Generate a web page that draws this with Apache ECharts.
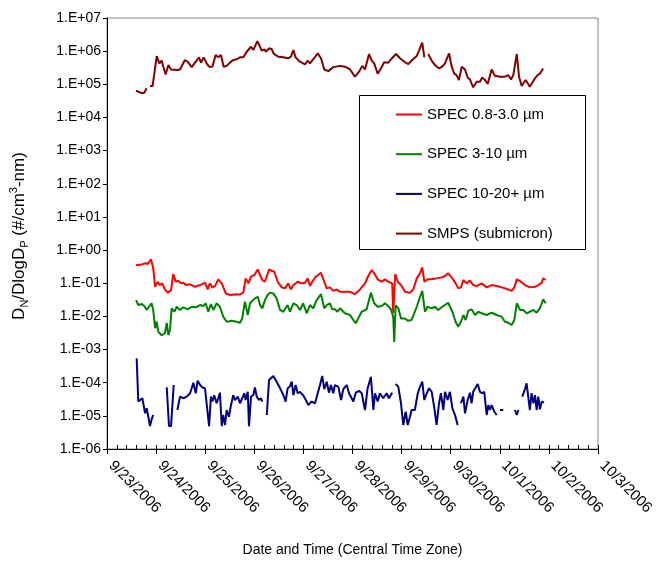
<!DOCTYPE html>
<html>
<head>
<meta charset="utf-8">
<script src="https://cdn.jsdelivr.net/npm/echarts@6/dist/echarts.min.js"></script>
<style>html,body{margin:0;padding:0;background:#fff}#c{width:664px;height:562px}</style>
</head>
<body>
<div id="c"></div>
<script>
// x values: hours since 9/23/2006 00:00 (Central Time)
const dayLabels = ['9/23/2006','9/24/2006','9/25/2006','9/26/2006','9/27/2006','9/28/2006','9/29/2006','9/30/2006','10/1/2006','10/2/2006','10/3/2006'];
const yTickLabels = ['1.E-06','1.E-05','1.E-04','1.E-03','1.E-02','1.E-01','1.E+00','1.E+01','1.E+02','1.E+03','1.E+04','1.E+05','1.E+06','1.E+07'];
const seriesNames = ['SPEC 0.8-3.0 µm','SPEC 3-10 µm','SPEC 10-20+ µm','SMPS (submicron)'];

const spec08 = [[14.2,0.35],[17.0,0.37],[18.9,0.40],[19.9,0.38],[21.5,0.53],[22.6,0.28],[23.5,0.078],[24.8,0.11],[25.9,0.088],[27.0,0.099],[28.3,0.065],[29.7,0.052],[31.3,0.062],[32.4,0.19],[33.6,0.11],[34.8,0.12],[36.2,0.099],[37.3,0.104],[38.5,0.088],[40.6,0.093],[43.0,0.078],[45.5,0.088],[47.9,0.104],[49.2,0.065],[50.3,0.099],[51.5,0.075],[52.8,0.082],[54.4,0.131],[56.1,0.099],[58.0,0.050],[60.1,0.044],[62.6,0.046],[65.0,0.046],[66.6,0.052],[67.8,0.14],[69.1,0.099],[70.4,0.157],[72.0,0.177],[73.7,0.26],[74.8,0.177],[75.9,0.125],[77.2,0.111],[79.2,0.26],[80.5,0.238],[81.8,0.222],[83.4,0.111],[85.4,0.075],[87.0,0.070],[88.6,0.099],[89.9,0.065],[91.1,0.088],[93.2,0.111],[95.2,0.099],[96.8,0.104],[98.1,0.14],[99.2,0.082],[100.3,0.111],[102.0,0.157],[104.6,0.207],[106.2,0.111],[107.4,0.070],[109.0,0.075],[110.6,0.059],[112.3,0.065],[113.9,0.055],[116.3,0.055],[118.8,0.055],[121.2,0.047],[123.7,0.065],[126.1,0.099],[127.7,0.165],[129.4,0.25],[130.6,0.20],[132.3,0.131],[134.3,0.111],[135.9,0.131],[137.5,0.111],[139.4,0.099],[139.9,0.0126],[140.9,0.19],[142.1,0.111],[143.7,0.088],[145.7,0.055],[148.1,0.052],[149.7,0.065],[151.4,0.14],[153.0,0.20],[154.1,0.30],[155.1,0.111],[156.7,0.131],[158.7,0.131],[161.1,0.14],[163.6,0.15],[165.2,0.165],[166.8,0.20],[168.8,0.14],[170.4,0.099],[171.7,0.070],[173.0,0.075],[174.2,0.125],[175.8,0.099],[177.4,0.12],[179.0,0.088],[180.7,0.082],[183.1,0.099],[185.6,0.075],[188.0,0.088],[190.5,0.082],[192.9,0.075],[194.5,0.070],[196.1,0.065],[197.8,0.059],[199.1,0.075],[200.3,0.131],[202.3,0.111],[204.3,0.088],[206.7,0.075],[209.2,0.078],[210.8,0.088],[212.5,0.104],[213.2,0.14],[214.4,0.125]];

const spec310 = [[14.2,0.031],[15.3,0.022],[17.0,0.0236],[18.2,0.0205],[19.4,0.0156],[20.5,0.0195],[21.8,0.0248],[22.6,0.0156],[23.5,0.0044],[24.3,0.0069],[25.1,0.0034],[26.7,0.0027],[28.3,0.0031],[29.2,0.0064],[30.0,0.0027],[30.8,0.0039],[31.6,0.0175],[32.9,0.0138],[34.1,0.0195],[35.7,0.0156],[37.3,0.0188],[39.4,0.0163],[41.4,0.0195],[43.4,0.0188],[45.5,0.022],[47.0,0.0205],[48.2,0.0248],[49.5,0.0138],[50.8,0.0236],[52.0,0.0156],[53.6,0.0248],[55.2,0.0195],[56.8,0.0098],[58.5,0.0069],[61.0,0.0074],[63.4,0.0069],[65.0,0.0064],[66.1,0.0087],[67.4,0.0277],[68.8,0.011],[69.9,0.0248],[70.7,0.022],[72.3,0.035],[73.7,0.039],[74.8,0.022],[75.9,0.0175],[77.2,0.031],[78.5,0.044],[79.7,0.052],[81.3,0.0495],[82.9,0.035],[84.6,0.0156],[86.2,0.0138],[88.3,0.022],[89.4,0.0138],[91.1,0.0248],[92.7,0.022],[94.3,0.0156],[95.9,0.0248],[97.6,0.0124],[99.2,0.022],[100.8,0.0175],[102.5,0.031],[104.6,0.047],[106.2,0.0175],[107.4,0.022],[109.0,0.0248],[110.1,0.0163],[111.4,0.0163],[112.7,0.0138],[113.9,0.0175],[114.8,0.0156],[116.3,0.0124],[118.8,0.011],[120.4,0.0078],[121.6,0.0062],[123.2,0.0098],[124.5,0.0138],[126.9,0.0163],[129.0,0.052],[130.6,0.0248],[132.3,0.0195],[134.3,0.0205],[135.9,0.0248],[137.8,0.0195],[138.8,0.0163],[139.9,0.0098],[140.4,0.0017],[141.1,0.022],[142.4,0.0175],[143.7,0.0087],[145.7,0.0087],[147.0,0.0074],[148.9,0.0078],[151.4,0.0195],[153.0,0.039],[154.1,0.059],[155.4,0.0138],[156.7,0.0195],[158.7,0.0175],[160.3,0.0195],[161.9,0.0156],[164.4,0.0205],[166.8,0.0258],[168.8,0.0138],[170.4,0.0069],[171.7,0.0049],[173.0,0.0069],[174.2,0.011],[175.3,0.0078],[176.6,0.0148],[178.2,0.0163],[179.9,0.011],[181.5,0.0138],[183.1,0.0124],[185.6,0.011],[188.0,0.0129],[190.5,0.011],[192.9,0.0098],[194.5,0.0069],[196.1,0.0064],[197.8,0.0055],[199.1,0.0078],[200.3,0.0248],[201.9,0.0156],[203.5,0.0156],[205.1,0.0124],[206.7,0.0138],[208.4,0.0156],[210.0,0.0129],[211.6,0.0175],[213.2,0.0327],[214.4,0.0248]];

const spec1020 = [[14.5,5.4e-4],[15.3,2.7e-5],[16.1,3.0e-5],[17.3,3.4e-5],[17.9,2.1e-5],[18.6,1.2e-5],[19.4,1.7e-5],[20.2,9.4e-6],[21.0,4.9e-6],[21.8,7.8e-6],[22.6,1.06e-5],[23.5,null],
[29.2,7.2e-5],[30.3,4.9e-6],[31.3,4.9e-6],[32.6,8.5e-5],[33.5,null],
[34.4,1.5e-5],[35.7,3.8e-5],[37.3,3.4e-5],[39.0,3.8e-5],[40.6,4.8e-5],[41.4,6.8e-5],[42.2,1.0e-4],[43.4,4.8e-5],[44.3,1.15e-4],[45.5,8.5e-5],[46.6,7.2e-5],[47.9,6.8e-5],[48.7,6.0e-5],[49.9,4.9e-6],[50.8,3.8e-5],[51.5,2.7e-5],[52.4,4.2e-5],[53.6,2.4e-5],[55.2,5.0e-5],[56.1,4.9e-6],[56.8,1.06e-5],[57.7,5.3e-6],[58.5,1.5e-5],[59.6,9.4e-6],[60.6,2.1e-5],[61.7,4.2e-5],[62.6,3.0e-5],[63.9,3.8e-5],[65.0,2.4e-5],[66.1,3.4e-5],[67.1,4.8e-5],[67.8,3.0e-5],[68.8,5.3e-5],[69.4,4.9e-6],[70.4,3.8e-5],[71.5,4.2e-5],[72.3,7.2e-5],[73.2,3.8e-5],[74.3,3.0e-5],[75.3,3.4e-5],[75.9,2.7e-5],[76.8,null],
[78.1,1.06e-5],[79.2,1.2e-4],[81.3,1.6e-4],[82.9,1.07e-4],[84.6,6.8e-5],[86.2,4.2e-5],[87.3,2.7e-5],[88.3,6.8e-5],[89.4,7.7e-5],[90.3,1.07e-4],[91.1,4.2e-5],[92.2,8.5e-5],[93.2,4.8e-5],[94.3,5.3e-5],[95.9,4.2e-5],[97.6,2.7e-5],[98.4,2.1e-5],[100.0,2.7e-5],[101.7,2.4e-5],[103.0,4.8e-5],[104.1,8.5e-5],[105.2,1.6e-4],[106.2,6.4e-5],[107.4,1.07e-4],[108.5,5.0e-5],[109.5,8.5e-5],[110.6,4.8e-5],[111.4,8.5e-5],[113.1,7.5e-5],[114.4,3.0e-5],[115.5,6.4e-5],[117.2,8.5e-5],[118.3,4.8e-5],[120.4,2.7e-5],[121.6,5.0e-5],[123.2,5.7e-5],[124.5,4.8e-5],[126.1,1.5e-5],[127.4,6.8e-5],[129.0,1.5e-4],[130.2,1.5e-5],[131.0,4.8e-5],[132.3,2.7e-5],[133.4,4.8e-5],[135.0,3.4e-5],[136.7,4.8e-5],[137.8,3.4e-5],[139.4,5.0e-5],[140.2,null],
[141.1,9.1e-5],[142.4,7.5e-5],[143.7,2.4e-5],[144.8,5.3e-6],[146.0,1.33e-5],[147.0,5.3e-6],[148.1,9.4e-6],[148.9,1.5e-5],[150.5,1.5e-5],[151.9,4.8e-5],[153.0,7.5e-5],[154.1,1.07e-4],[155.1,3.0e-5],[156.3,4.8e-5],[157.4,6.8e-5],[158.7,5.3e-5],[160.0,1.7e-5],[161.1,5.3e-6],[162.3,2.4e-5],[163.2,4.8e-5],[164.4,1.5e-5],[165.2,5.3e-5],[166.5,3.0e-5],[167.6,5.3e-5],[168.8,1.7e-5],[170.1,1.06e-5],[171.4,5.3e-6],[172.0,null],
[173.0,2.4e-5],[174.2,3.8e-5],[175.0,1.19e-5],[176.3,3.0e-5],[177.4,5.0e-5],[178.2,2.4e-5],[179.0,5.3e-5],[180.2,7.2e-5],[181.2,9.1e-5],[182.3,5.3e-5],[183.4,4.8e-5],[184.4,5.3e-5],[185.6,1.06e-5],[186.4,2.1e-5],[187.2,1.5e-5],[188.0,2.1e-5],[189.3,1.33e-5],[190.5,1.06e-5],[191.5,null],
[192.1,1.5e-5],[193.7,1.5e-5],[195.0,null],
[199.4,1.5e-5],[200.3,1.06e-5],[201.1,1.5e-5],[201.8,null],
[203.0,3.8e-5],[204.3,6.4e-5],[205.1,9.6e-5],[205.9,3.8e-5],[206.7,1.5e-5],[207.5,4.8e-5],[208.4,2.4e-5],[209.2,4.2e-5],[210.0,1.5e-5],[210.8,3.8e-5],[211.6,1.57e-5],[212.5,2.7e-5],[213.6,2.5e-5]];

const smps = [[14.2,6.4e4],[17.0,5.4e4],[18.2,5.6e4],[19.4,7.6e4],[20.2,null],[21.0,8.9e4],[22.3,8.9e4],[24.3,7.1e5],[25.6,4.3e5],[26.7,5.2e5],[27.5,3.4e5],[28.7,2.0e5],[30.0,3.8e5],[31.3,2.8e5],[34.7,2.7e5],[35.7,2.8e5],[38.1,5.4e5],[39.4,4.8e5],[41.4,3.3e5],[42.2,3.0e5],[43.4,4.8e5],[45.0,6.5e5],[45.9,4.5e5],[47.3,6.5e5],[48.7,4.3e5],[49.9,3.4e5],[51.5,3.4e5],[53.1,7.7e5],[54.4,6.5e5],[55.7,7.7e5],[57.0,3.4e5],[58.5,3.6e5],[60.1,4.5e5],[61.7,5.4e5],[63.4,5.7e5],[65.0,6.5e5],[66.6,6.5e5],[68.3,9.6e5],[70.4,1.36e6],[71.5,1.08e6],[73.5,2.0e6],[74.8,1.36e6],[75.6,1.03e6],[76.9,1.14e6],[77.7,9.6e5],[79.2,1.22e6],[80.5,1.14e6],[81.6,8.2e5],[83.7,6.8e5],[86.2,6.5e5],[88.6,6.1e5],[89.9,6.8e5],[91.1,1.08e6],[92.2,6.5e5],[94.3,4.8e5],[96.8,4.0e5],[98.1,5.2e5],[99.2,4.3e5],[100.8,5.7e5],[103.0,8.6e5],[104.6,6.1e5],[106.2,2.8e5],[108.2,2.5e5],[110.6,3.3e5],[113.9,3.6e5],[116.3,3.4e5],[118.8,2.8e5],[121.2,1.7e5],[123.2,2.4e5],[124.8,3.6e5],[126.1,2.8e5],[128.1,8.2e5],[129.4,5.2e5],[130.6,4.3e5],[132.3,2.1e5],[133.9,3.0e5],[135.5,4.6e5],[137.5,4.5e5],[138.8,5.7e5],[141.3,8.2e5],[143.2,6.1e5],[145.7,4.6e5],[147.3,4.1e5],[149.2,5.4e5],[151.4,7.1e5],[152.5,1.03e6],[154.1,1.8e6],[155.1,6.5e5],[156.0,null],[157.0,8.2e5],[158.7,5.2e5],[160.3,3.8e5],[162.3,3.0e5],[163.9,3.4e5],[165.2,4.3e5],[167.2,8.6e5],[168.5,3.4e5],[169.7,2.1e5],[170.9,1.9e5],[172.0,1.35e5],[173.4,3.4e5],[175.0,2.8e5],[176.3,1.6e5],[177.4,1.4e5],[179.0,8.1e4],[180.7,1.2e5],[182.3,1.2e5],[183.4,1.6e5],[184.8,1.35e5],[186.1,1.02e5],[188.0,2.8e5],[189.6,1.8e5],[192.1,1.7e5],[194.5,1.7e5],[196.1,1.9e5],[197.5,1.4e5],[198.6,1.9e5],[200.3,8.2e5],[201.4,1.7e5],[202.7,8.9e4],[204.6,1.35e5],[206.7,8.5e4],[208.8,1.4e5],[210.5,1.9e5],[211.6,2.1e5],[213.2,3.0e5]];

const FONT = '"Liberation Sans", Arial, sans-serif';
const chart = echarts.init(document.getElementById('c'), null, {renderer: 'canvas'});

function lineSeries(name, data, color) {
  return {
    name: name, type: 'line', data: data, xAxisIndex: 0, yAxisIndex: 0,
    symbol: 'none', showSymbol: false, connectNulls: false, smooth: false,
    lineStyle: {color: color, width: 2}, itemStyle: {color: color},
    emphasis: {disabled: true}, animation: false
  };
}

chart.setOption({
  animation: false,
  backgroundColor: '#fff',
  textStyle: {fontFamily: FONT},
  grid: {left: 107, top: 18, right: 66, bottom: 113, show: true, borderColor: '#868686', borderWidth: 1, backgroundColor: 'transparent', outerBoundsMode: 'none', containLabel: false},
  legend: {
    data: seriesNames, orient: 'vertical', left: 395, top: 107, padding: 0,
    itemWidth: 26, itemHeight: 14, itemGap: 24.7,
    itemStyle: {opacity: 0},
    lineStyle: {width: 2},
    textStyle: {fontFamily: FONT, fontSize: 15, color: '#000', lineHeight: 14},
    selectedMode: false, z: 10
  },
  xAxis: [{
    type: 'value', min: 0, max: 240, interval: 24, position: 'bottom',
    axisLine: {show: true, onZero: false, lineStyle: {color: '#000', width: 1}},
    axisTick: {show: true, inside: false, length: 5, lineStyle: {color: '#000'}},
    minorTick: {show: false},
    splitLine: {show: false},
    axisLabel: {rotate: -45, margin: 10, padding: [0, 0, 0, 6], fontSize: 15, color: '#000', fontFamily: FONT,
      formatter: function (v) { return dayLabels[Math.round(v / 24)] || ''; }}
  }, {
    type: 'value', min: 0, max: 240, interval: 24, position: 'bottom', gridIndex: 0,
    axisLine: {show: false, onZero: false},
    axisTick: {show: true, inside: true, length: 4, lineStyle: {color: '#000'}},
    minorTick: {show: true, splitNumber: 5, length: 4, lineStyle: {color: '#000', width: 1}},
    splitLine: {show: false}, axisLabel: {show: false}
  }],
  yAxis: {
    type: 'log', logBase: 10, min: 1e-6, max: 1e7, interval: 1,
    axisLine: {show: true, lineStyle: {color: '#000', width: 1}},
    axisTick: {show: true, inside: false, length: 4, lineStyle: {color: '#000'}},
    splitLine: {show: false}, minorTick: {show: false},
    axisLabel: {margin: 6, fontSize: 14, color: '#000', fontFamily: FONT, showMinLabel: true, showMaxLabel: true, hideOverlap: false,
      formatter: function (v) { const e = Math.round(Math.log10(v)); return yTickLabels[e + 6] || ''; }}
  },
  graphic: [
    {type: 'rect', z: 5, shape: {x: 359.5, y: 95.5, width: 226, height: 154}, style: {fill: '#fff', stroke: '#000', lineWidth: 1}},
    {type: 'text', x: 19, y: 236, rotation: Math.PI / 2, z: 5,
      style: {text: '{b|D}{s|N}{b|/DlogD}{s|P}{b| (#/cm}{p|3}{b|-nm)}', align: 'center', verticalAlign: 'middle', fill: '#000',
        rich: {
          b: {fontFamily: FONT, fontSize: 17, lineHeight: 22, verticalAlign: 'middle', fill: '#000'},
          s: {fontFamily: FONT, fontSize: 11, lineHeight: 12, verticalAlign: 'bottom', fill: '#000'},
          p: {fontFamily: FONT, fontSize: 11, lineHeight: 12, verticalAlign: 'top', fill: '#000'}
        }}},
    {type: 'text', x: 352.5, y: 550, z: 5,
      style: {text: 'Date and Time (Central Time Zone)', align: 'center', verticalAlign: 'middle', fontFamily: FONT, fontSize: 14, fill: '#000'}}
  ],
  series: [
    lineSeries(seriesNames[0], spec08, '#FF0000'),
    lineSeries(seriesNames[1], spec310, '#008000'),
    lineSeries(seriesNames[2], spec1020, '#000080'),
    lineSeries(seriesNames[3], smps, '#800000')
  ]
});
</script>
</body>
</html>
